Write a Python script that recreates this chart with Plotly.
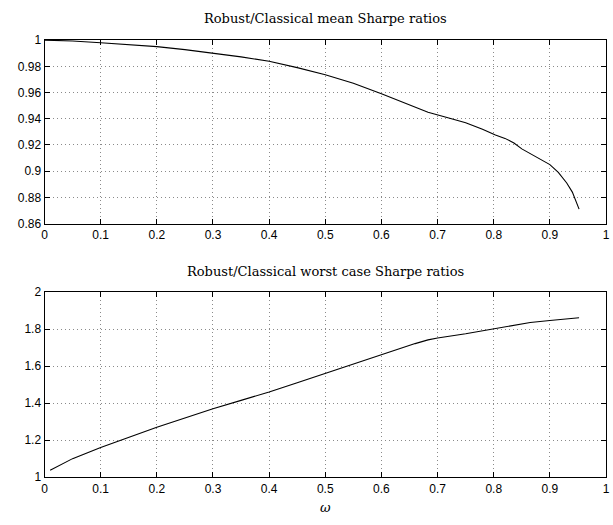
import plotly.graph_objects as go

# Data
omega_mean = [0.0, 0.05, 0.1, 0.15, 0.2, 0.25, 0.3, 0.35, 0.4, 0.45, 0.5, 0.55, 0.6, 0.63,
              0.66, 0.683, 0.72, 0.75, 0.78, 0.803, 0.82, 0.836, 0.85, 0.862, 0.88, 0.9,
              0.915, 0.93, 0.94, 0.952]
mean_ratio = [1.0, 0.9993, 0.998, 0.9966, 0.995, 0.9927, 0.990, 0.9872, 0.9838, 0.979, 0.9735,
              0.967, 0.959, 0.954, 0.949, 0.945, 0.9405, 0.937, 0.932, 0.9275, 0.925, 0.9215,
              0.917, 0.914, 0.910, 0.905, 0.899, 0.891, 0.884, 0.871]

omega_worst = [0.01, 0.05, 0.1, 0.15, 0.2, 0.25, 0.3, 0.35, 0.4, 0.45, 0.5, 0.55, 0.6, 0.63,
               0.66, 0.683, 0.7, 0.75, 0.8, 0.865, 0.9, 0.952]
worst_ratio = [1.037, 1.10, 1.16, 1.215, 1.27, 1.32, 1.37, 1.415, 1.46, 1.51, 1.56, 1.61, 1.662,
               1.694, 1.722, 1.742, 1.752, 1.775, 1.80, 1.836, 1.847, 1.862]

x_ticks = [0, 0.1, 0.2, 0.3, 0.4, 0.5, 0.6, 0.7, 0.8, 0.9, 1]
x_ticktext = ["0", "0.1", "0.2", "0.3", "0.4", "0.5", "0.6", "0.7", "0.8", "0.9", "1"]
y1_ticks = [0.86, 0.88, 0.9, 0.92, 0.94, 0.96, 0.98, 1]
y1_ticktext = ["0.86", "0.88", "0.9", "0.92", "0.94", "0.96", "0.98", "1"]
y2_ticks = [1, 1.2, 1.4, 1.6, 1.8, 2]
y2_ticktext = ["1", "1.2", "1.4", "1.6", "1.8", "2"]

title1 = "Robust/Classical mean Sharpe ratios"
title2 = "Robust/Classical worst case Sharpe ratios"

fig = go.Figure()
fig.add_trace(go.Scatter(x=omega_mean, y=mean_ratio, mode="lines",
                         line=dict(color="black", width=1.1), xaxis="x", yaxis="y",
                         showlegend=False))
fig.add_trace(go.Scatter(x=omega_worst, y=worst_ratio, mode="lines",
                         line=dict(color="black", width=1.1), xaxis="x2", yaxis="y2",
                         showlegend=False))

tickfont = dict(family="Liberation Sans, Arial, sans-serif", size=12, color="black")
common_axis = dict(showline=True, linecolor="black", linewidth=1, mirror="ticks",
                   ticks="inside", ticklen=5, tickcolor="black", tickwidth=1,
                   showgrid=True, gridcolor="#8a8a8a", griddash="1px,3px", gridwidth=1,
                   zeroline=False, tickfont=tickfont, ticklabeloverflow="allow")

serif = dict(family="DejaVu Serif", size=13, color="black")
xdom = [42 / 613, 610 / 613]
fig.update_layout(
    width=613, height=525,
    margin=dict(l=0, r=0, t=0, b=0),
    paper_bgcolor="white", plot_bgcolor="white",
    xaxis=dict(domain=xdom, range=[0, 1], tickvals=x_ticks, ticktext=x_ticktext,
               anchor="y", **common_axis),
    yaxis=dict(domain=[(525 - 222.5) / 525, (525 - 34) / 525], range=[0.86, 1],
               tickvals=y1_ticks, ticktext=y1_ticktext, anchor="x", **common_axis),
    xaxis2=dict(domain=xdom, range=[0, 1], tickvals=x_ticks, ticktext=x_ticktext,
                anchor="y2", title=dict(text="<i>ω</i>", standoff=8, font=serif),
                **common_axis),
    yaxis2=dict(domain=[(525 - 483) / 525, (525 - 293) / 525], range=[1, 2],
                tickvals=y2_ticks, ticktext=y2_ticktext, anchor="x2", **common_axis),
    annotations=[
        dict(text=title1, x=0.5 * (xdom[0] + xdom[1]), y=1 - 12 / 525, xref="paper", yref="paper",
             xanchor="center", yanchor="middle", showarrow=False, font=serif),
        dict(text=title2, x=0.5 * (xdom[0] + xdom[1]), y=1 - 272 / 525, xref="paper", yref="paper",
             xanchor="center", yanchor="middle", showarrow=False, font=serif),
    ],
)

fig.write_html("out.html")
